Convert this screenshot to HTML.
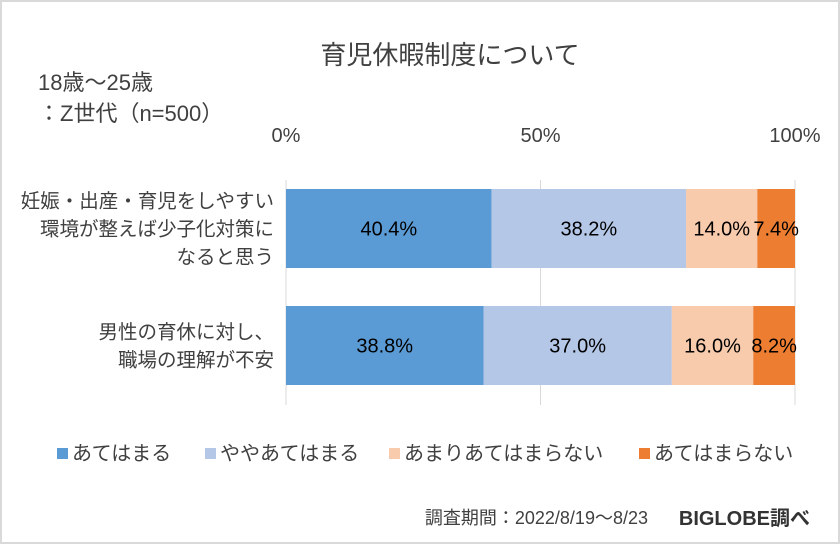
<!DOCTYPE html>
<html><head><meta charset="utf-8"><style>
body{margin:0;background:#fff}
svg{display:block;font-family:"Liberation Sans","Noto Sans CJK JP",sans-serif}
</style></head><body>
<svg id="c" width="840" height="544">
<rect x="1" y="1" width="838" height="542" fill="#fff" stroke="#d9d9d9" stroke-width="2"/>
<text x="450" y="64" font-size="26" text-anchor="middle" fill="#404040">育児休暇制度について</text>
<text x="38" y="90" font-size="22" fill="#404040">18歳～25歳</text>
<text x="38" y="121" font-size="22" fill="#404040">：Z世代（n=500）</text>
<g id="grid"></g><g id="bars"></g><g id="cats"></g><g id="legend"></g>
<text x="648" y="524" font-size="18" text-anchor="end" fill="#404040">調査期間：2022/8/19～8/23</text>
<text x="810" y="525" font-size="20" font-weight="bold" text-anchor="end" fill="#333">BIGLOBE調べ</text>
</svg>
<script>
const categories=[["妊娠・出産・育児をしやすい","環境が整えば少子化対策に","なると思う"],["男性の育休に対し、","職場の理解が不安"]];
const seriesNames=["あてはまる","ややあてはまる","あまりあてはまらない","あてはまらない"];
const s1=[40.4,38.8],s2=[38.2,37.0],s3=[14.0,16.0],s4=[7.4,8.2];
const ticks=[0,50,100];
const colors=["#5B9BD5","#B4C7E7","#F8CBAD","#ED7D31"];
const NS="http://www.w3.org/2000/svg";
const x0=286,x1=795,xs=v=>x0+(x1-x0)*v/100;
const rowY=[189,306],bh=79;
function mk(t,a,p,txt){const e=document.createElementNS(NS,t);for(const k in a)e.setAttribute(k,a[k]);if(txt!=null)e.textContent=txt;p.appendChild(e);return e;}
const grid=document.getElementById('grid');
ticks.forEach(t=>{
 const l=mk('line',{x1:xs(t),x2:xs(t),y1:180,y2:405,stroke:'#d9d9d9'},grid);
 
 
 const tx=mk('text',{x:xs(t),y:142,'font-size':20,'text-anchor':'middle',fill:'#404040'},grid,t+'%');
 
 
});
const series=[s1,s2,s3,s4];
const bars=document.getElementById('bars');
categories.forEach((c,i)=>{
 let acc=0;
 series.forEach((s,j)=>{
  const v=s[i];
  const r=mk('rect',{x:xs(acc),y:rowY[i],width:xs(acc+v)-xs(acc),height:bh,fill:colors[j]},bars);
  
  
  const t=mk('text',{x:(xs(acc)+xs(acc+v))/2,y:rowY[i]+bh/2+7,'font-size':20,'text-anchor':'middle',fill:'#000'},bars,v.toFixed(1)+'%');
  
  
  acc+=v;
 });
 const g=document.getElementById('cats');
 const n=c.length,cy=rowY[i]+bh/2;
 c.forEach((ln,k)=>{
  const t=mk('text',{x:274,y:cy+(k-(n-1)/2)*28+7,'font-size':19.5,'text-anchor':'end',fill:'#404040'},g,ln);
  
  
 });
});
const lg=document.getElementById('legend');
const lx=[57,205,389,639];
seriesNames.forEach((n,j)=>{
 const r=mk('rect',{x:lx[j],y:448,width:11,height:11,fill:colors[j]},lg);
 
 
 const t=mk('text',{x:lx[j]+15,y:460,'font-size':20,fill:'#404040'},lg,n);
 
 
});
</script>
</body></html>
